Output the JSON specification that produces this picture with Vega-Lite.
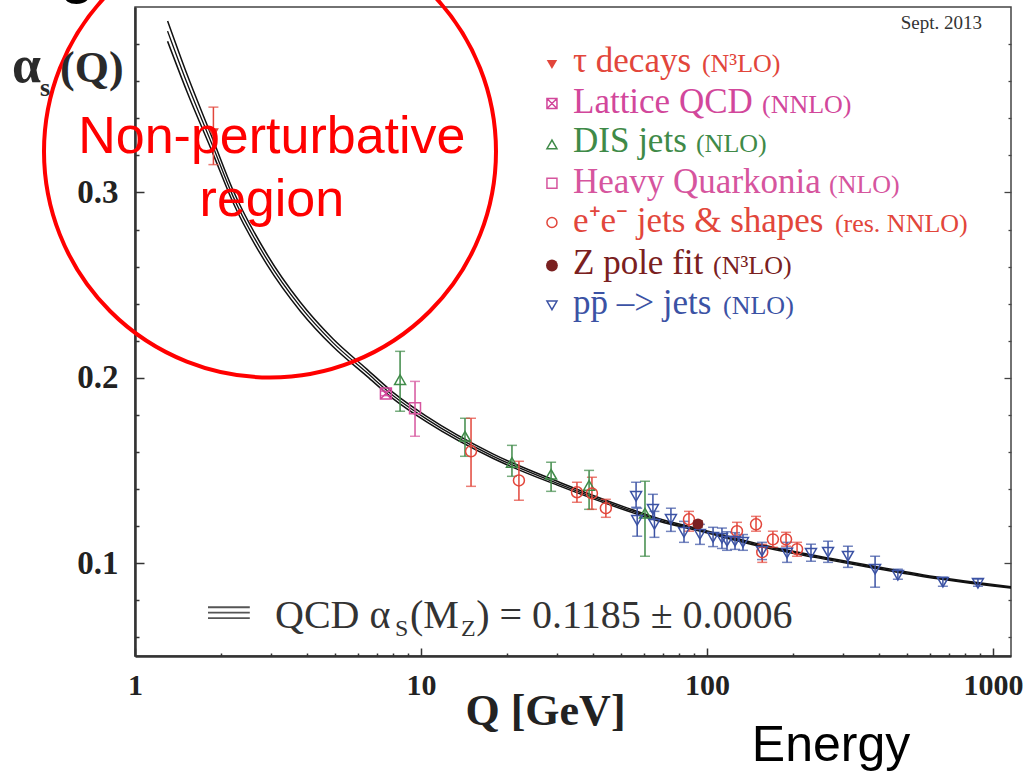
{
  "$schema": "https://vega.github.io/schema/vega-lite/v6.json",
  "width": 876,
  "height": 649,
  "autosize": {"type": "none"},
  "padding": {"left": 135, "top": 7, "right": 17, "bottom": 118},
  "background": "white",
  "config": {
    "view": {"stroke": "#444", "strokeWidth": 1.5},
    "legend": {"disable": true},
    "font": "Liberation Serif"
  },
  "resolve": {"axis": {"x": "independent", "y": "independent"}},
  "data": {"values": [{}]},
  "datasets": {
    "curve": [
      {"q": 1.30, "a": 0.387, "lo": 0.3815, "hi": 0.3925},
      {"q": 1.52, "a": 0.359, "lo": 0.3543, "hi": 0.3637},
      {"q": 1.87, "a": 0.325, "lo": 0.3212, "hi": 0.3288},
      {"q": 2.20, "a": 0.298, "lo": 0.2947, "hi": 0.3013},
      {"q": 2.89, "a": 0.264, "lo": 0.2612, "hi": 0.2668},
      {"q": 3.78, "a": 0.2385, "lo": 0.2361, "hi": 0.2409},
      {"q": 4.92, "a": 0.219, "lo": 0.2169, "hi": 0.2211},
      {"q": 6.48, "a": 0.2027, "lo": 0.2008, "hi": 0.2046},
      {"q": 7.98, "a": 0.1905, "lo": 0.1888, "hi": 0.1922},
      {"q": 10.5, "a": 0.1776, "lo": 0.1761, "hi": 0.1791},
      {"q": 17.9, "a": 0.1577, "lo": 0.1565, "hi": 0.1589},
      {"q": 30.6, "a": 0.1426, "lo": 0.1416, "hi": 0.1436},
      {"q": 52.5, "a": 0.1291, "lo": 0.1283, "hi": 0.1299},
      {"q": 68.5, "a": 0.1232, "lo": 0.1225, "hi": 0.1239},
      {"q": 91.2, "a": 0.1185, "lo": 0.1179, "hi": 0.1191},
      {"q": 150, "a": 0.1100, "lo": 0.1094, "hi": 0.1106},
      {"q": 269, "a": 0.1022, "lo": 0.1017, "hi": 0.1027},
      {"q": 380, "a": 0.0980, "lo": 0.0975, "hi": 0.0985},
      {"q": 653, "a": 0.0919, "lo": 0.0915, "hi": 0.0923},
      {"q": 1000, "a": 0.0881, "lo": 0.0877, "hi": 0.0885},
      {"q": 1156, "a": 0.0870, "lo": 0.0866, "hi": 0.0874}
    ],
    "points": [
      {"s": "τ decays", "q": 1.88, "a": 0.332, "lo": 0.315, "hi": 0.346},
      {"s": "Lattice QCD", "q": 7.54, "a": 0.1916, "lo": 0.1904, "hi": 0.1928},
      {"s": "DIS jets", "q": 8.45, "a": 0.199, "lo": 0.182, "hi": 0.2143},
      {"s": "DIS jets", "q": 14.25, "a": 0.1685, "lo": 0.1577, "hi": 0.1782},
      {"s": "DIS jets", "q": 20.8, "a": 0.1544, "lo": 0.1469, "hi": 0.1636},
      {"s": "DIS jets", "q": 28.5, "a": 0.148, "lo": 0.1388, "hi": 0.1545},
      {"s": "DIS jets", "q": 38.7, "a": 0.142, "lo": 0.1291, "hi": 0.1501},
      {"s": "DIS jets", "q": 60.7, "a": 0.127, "lo": 0.1038, "hi": 0.1442},
      {"s": "Heavy Quarkonia", "q": 9.53, "a": 0.1836, "lo": 0.1685, "hi": 0.1981},
      {"s": "e+e- jets & shapes", "q": 14.96, "a": 0.1604, "lo": 0.1415, "hi": 0.1782},
      {"s": "e+e- jets & shapes", "q": 22.0, "a": 0.1447, "lo": 0.134, "hi": 0.155},
      {"s": "e+e- jets & shapes", "q": 35.1, "a": 0.1383, "lo": 0.1329, "hi": 0.1437},
      {"s": "e+e- jets & shapes", "q": 39.6, "a": 0.1377, "lo": 0.1291, "hi": 0.1464},
      {"s": "e+e- jets & shapes", "q": 44.3, "a": 0.1297, "lo": 0.1248, "hi": 0.1345},
      {"s": "e+e- jets & shapes", "q": 86.5, "a": 0.1237, "lo": 0.1173, "hi": 0.128},
      {"s": "e+e- jets & shapes", "q": 127.3, "a": 0.1173, "lo": 0.114, "hi": 0.1221},
      {"s": "e+e- jets & shapes", "q": 148.4, "a": 0.121, "lo": 0.1173, "hi": 0.1253},
      {"s": "e+e- jets & shapes", "q": 156, "a": 0.106, "lo": 0.1005, "hi": 0.1102},
      {"s": "e+e- jets & shapes", "q": 170, "a": 0.1129, "lo": 0.1086, "hi": 0.1173},
      {"s": "e+e- jets & shapes", "q": 189, "a": 0.1129, "lo": 0.1092, "hi": 0.1167},
      {"s": "e+e- jets & shapes", "q": 206.5, "a": 0.1076, "lo": 0.1038, "hi": 0.1113},
      {"s": "Z pole fit", "q": 93, "a": 0.1212, "lo": 0.1195, "hi": 0.1229},
      {"s": "pp̄ -> jets", "q": 56.5, "a": 0.1361, "lo": 0.1302, "hi": 0.1437},
      {"s": "pp̄ -> jets", "q": 57, "a": 0.1232, "lo": 0.1146, "hi": 0.1297},
      {"s": "pp̄ -> jets", "q": 64.7, "a": 0.1291, "lo": 0.1237, "hi": 0.1372},
      {"s": "pp̄ -> jets", "q": 65.5, "a": 0.121, "lo": 0.114, "hi": 0.128},
      {"s": "pp̄ -> jets", "q": 74.8, "a": 0.1237, "lo": 0.1172, "hi": 0.1297},
      {"s": "pp̄ -> jets", "q": 83.1, "a": 0.1167, "lo": 0.1113, "hi": 0.1226},
      {"s": "pp̄ -> jets", "q": 94.5, "a": 0.1156, "lo": 0.1102, "hi": 0.121},
      {"s": "pp̄ -> jets", "q": 105, "a": 0.114, "lo": 0.109, "hi": 0.1194},
      {"s": "pp̄ -> jets", "q": 112.8, "a": 0.1135, "lo": 0.108, "hi": 0.119},
      {"s": "pp̄ -> jets", "q": 117.5, "a": 0.1119, "lo": 0.107, "hi": 0.117},
      {"s": "pp̄ -> jets", "q": 125.3, "a": 0.1119, "lo": 0.1075, "hi": 0.1165},
      {"s": "pp̄ -> jets", "q": 133.6, "a": 0.1113, "lo": 0.107, "hi": 0.1155},
      {"s": "pp̄ -> jets", "q": 155.7, "a": 0.1065, "lo": 0.102, "hi": 0.1113},
      {"s": "pp̄ -> jets", "q": 190.5, "a": 0.1055, "lo": 0.1005, "hi": 0.1113},
      {"s": "pp̄ -> jets", "q": 231, "a": 0.1054, "lo": 0.1011, "hi": 0.1103},
      {"s": "pp̄ -> jets", "q": 265, "a": 0.106, "lo": 0.1005, "hi": 0.1119},
      {"s": "pp̄ -> jets", "q": 311, "a": 0.1038, "lo": 0.0978, "hi": 0.1092},
      {"s": "pp̄ -> jets", "q": 387, "a": 0.0968, "lo": 0.0871, "hi": 0.1038},
      {"s": "pp̄ -> jets", "q": 465, "a": 0.0935, "lo": 0.0914, "hi": 0.0968},
      {"s": "pp̄ -> jets", "q": 668, "a": 0.0898, "lo": 0.0876, "hi": 0.0925},
      {"s": "pp̄ -> jets", "q": 886, "a": 0.0892, "lo": 0.0876, "hi": 0.0915}
    ]
  },
  "layer": [
    {
      "data": {"name": "curve"},
      "mark": {"type": "line", "color": "#111", "strokeWidth": 1.3, "interpolate": "monotone"},
      "encoding": {
        "x": {
          "field": "q", "type": "quantitative",
          "scale": {"type": "log", "domain": [1, 1156], "nice": false},
          "axis": {
            "orient": "bottom",
            "values": [1,2,3,4,5,6,7,8,9,10,20,30,40,50,60,70,80,90,100,200,300,400,500,600,700,800,900,1000],
            "labelExpr": "(datum.value==1||datum.value==10||datum.value==100||datum.value==1000) ? ('' + datum.value) : ''",
            "tickSize": {"condition": {"test": "datum.value==1||datum.value==10||datum.value==100||datum.value==1000", "value": -8}, "value": -3},
            "tickColor": "#333", "tickWidth": 1.5,
            "domainColor": "#333", "domainWidth": 2.5,
            "labelFont": "Liberation Serif", "labelFontWeight": "bold", "labelFontSize": 30, "labelColor": "#222",
            "labelPadding": 22, "labelFlush": false, "labelOverlap": false, "labelBound": false,
            "grid": false,
            "title": "Q [GeV]", "titleFont": "Liberation Serif", "titleFontWeight": "bold", "titleFontSize": 44,
            "titleColor": "#222", "titleX": 410, "titleY": 68, "titleAlign": "center", "titleBaseline": "alphabetic"
          }
        },
        "y": {
          "field": "a", "type": "quantitative",
          "scale": {"domain": [0.05, 0.4], "nice": false, "zero": false},
          "axis": {
            "orient": "left",
            "values": [0.06,0.08,0.1,0.12,0.14,0.16,0.18,0.2,0.22,0.24,0.26,0.28,0.3,0.32,0.34,0.36,0.38],
            "labelExpr": "(datum.value==0.1||datum.value==0.2||datum.value==0.3) ? format(datum.value, '.1f') : ''",
            "tickSize": {"condition": {"test": "datum.value==0.1||datum.value==0.2||datum.value==0.3", "value": -9}, "value": -4},
            "tickColor": "#333", "tickWidth": 1.5,
            "domainColor": "#333", "domainWidth": 2.5,
            "labelFont": "Liberation Serif", "labelFontWeight": "bold", "labelFontSize": 33, "labelColor": "#222",
            "labelPadding": 26, "labelOverlap": false, "labelBound": false, "labelFlush": false,
            "grid": false, "title": null
          }
        }
      }
    },
    {
      "data": {"name": "curve"},
      "mark": {"type": "line", "color": "#111", "strokeWidth": 1.5, "interpolate": "monotone"},
      "encoding": {
        "x": {"field": "q", "type": "quantitative", "axis": null},
        "y": {"field": "lo", "type": "quantitative", "axis": null}
      }
    },
    {
      "data": {"name": "curve"},
      "mark": {"type": "line", "color": "#111", "strokeWidth": 1.5, "interpolate": "monotone"},
      "encoding": {
        "x": {"field": "q", "type": "quantitative", "axis": null},
        "y": {"field": "hi", "type": "quantitative", "axis": null}
      }
    },
    {
      "data": {"name": "points"},
      "mark": {"type": "errorbar", "ticks": true, "size": 10, "thickness": 1.5},
      "encoding": {
        "x": {"field": "q", "type": "quantitative", "axis": null},
        "y": {"field": "lo", "type": "quantitative", "axis": null},
        "y2": {"field": "hi"},
        "color": {"field": "s", "type": "nominal"}
      }
    },
    {
      "data": {"name": "points"},
      "transform": [{"filter": "datum.s != 'τ decays' && datum.s != 'Z pole fit'"}],
      "mark": {"type": "point", "filled": false, "size": 120, "strokeWidth": 1.5, "opacity": 1},
      "encoding": {
        "x": {"field": "q", "type": "quantitative", "axis": null},
        "y": {"field": "a", "type": "quantitative", "axis": null},
        "color": {
          "field": "s", "type": "nominal",
          "scale": {
            "domain": ["τ decays", "Lattice QCD", "DIS jets", "Heavy Quarkonia", "e+e- jets & shapes", "Z pole fit", "pp̄ -> jets"],
            "range": ["#e2463b", "#d2479b", "#3f8a48", "#d6559e", "#e2463b", "#7a2020", "#3b52a4"]
          }
        },
        "shape": {
          "field": "s", "type": "nominal",
          "scale": {
            "domain": ["τ decays", "Lattice QCD", "DIS jets", "Heavy Quarkonia", "e+e- jets & shapes", "Z pole fit", "pp̄ -> jets"],
            "range": ["triangle-down", "M-1,-1H1V1H-1Z M-1,-1L1,1 M1,-1L-1,1", "triangle-up", "square", "circle", "circle", "triangle-down"]
          }
        }
      }
    },
    {
      "data": {"name": "points"},
      "transform": [{"filter": "datum.s == 'τ decays' || datum.s == 'Z pole fit'"}],
      "mark": {"type": "point", "filled": true, "size": 120, "opacity": 1},
      "encoding": {
        "x": {"field": "q", "type": "quantitative", "axis": null},
        "y": {"field": "a", "type": "quantitative", "axis": null},
        "color": {"field": "s", "type": "nominal"},
        "shape": {"field": "s", "type": "nominal"}
      }
    },
    {
      "data": {"name": "curve"},
      "mark": {"type": "point", "opacity": 0},
      "encoding": {
        "x": {"field": "q", "type": "quantitative", "axis": null},
        "y": {
          "field": "a", "type": "quantitative",
          "axis": {
            "orient": "right",
            "values": [0.06,0.08,0.1,0.12,0.14,0.16,0.18,0.2,0.22,0.24,0.26,0.28,0.3,0.32,0.34,0.36,0.38],
            "labels": false, "domain": false, "grid": false, "title": null,
            "tickSize": {"condition": {"test": "datum.value==0.1||datum.value==0.2||datum.value==0.3", "value": -7}, "value": -3},
            "tickColor": "#444", "tickWidth": 1.3
          }
        }
      }
    },
    {
      "mark": {"type": "point", "shape": "circle", "size": 204304, "filled": false, "color": "#ff0000", "strokeWidth": 4, "opacity": 1},
      "encoding": {"x": {"datum": 2.965, "axis": null}, "y": {"datum": 0.3221, "axis": null}}
    },
    {
      "mark": {"type": "text", "text": "Non-perturbative", "font": "Liberation Sans", "fontSize": 52, "color": "#ff0000", "align": "center", "baseline": "alphabetic"},
      "encoding": {"x": {"datum": 3.01, "axis": null}, "y": {"datum": 0.3210, "axis": null}}
    },
    {
      "mark": {"type": "text", "text": "region", "font": "Liberation Sans", "fontSize": 52, "color": "#ff0000", "align": "center", "baseline": "alphabetic"},
      "encoding": {"x": {"datum": 3.01, "axis": null}, "y": {"datum": 0.2871, "axis": null}}
    },
    {
      "mark": {"type": "text", "text": "Sept. 2013", "font": "Liberation Serif", "fontSize": 19, "color": "#333", "align": "right", "baseline": "middle"},
      "encoding": {"x": {"datum": 915, "axis": null}, "y": {"datum": 0.3916, "axis": null}}
    },
    {
      "mark": {"type": "point", "filled": true, "size": 110, "opacity": 1},
      "encoding": {"x": {"datum": 28.7, "axis": null}, "y": {"datum": 0.3690, "axis": null}, "color": {"datum": "τ decays"}, "shape": {"datum": "τ decays"}}
    },
    {
      "mark": {"type": "point", "filled": false, "size": 100, "strokeWidth": 1.5, "opacity": 1},
      "encoding": {"x": {"datum": 28.7, "axis": null}, "y": {"datum": 0.3480, "axis": null}, "color": {"datum": "Lattice QCD"}, "shape": {"datum": "Lattice QCD"}}
    },
    {
      "mark": {"type": "point", "filled": false, "size": 100, "strokeWidth": 1.5, "opacity": 1},
      "encoding": {"x": {"datum": 28.7, "axis": null}, "y": {"datum": 0.3259, "axis": null}, "color": {"datum": "DIS jets"}, "shape": {"datum": "DIS jets"}}
    },
    {
      "mark": {"type": "point", "filled": false, "size": 100, "strokeWidth": 1.5, "opacity": 1},
      "encoding": {"x": {"datum": 28.7, "axis": null}, "y": {"datum": 0.3049, "axis": null}, "color": {"datum": "Heavy Quarkonia"}, "shape": {"datum": "Heavy Quarkonia"}}
    },
    {
      "mark": {"type": "point", "filled": false, "size": 100, "strokeWidth": 1.5, "opacity": 1},
      "encoding": {"x": {"datum": 28.7, "axis": null}, "y": {"datum": 0.2838, "axis": null}, "color": {"datum": "e+e- jets & shapes"}, "shape": {"datum": "e+e- jets & shapes"}}
    },
    {
      "mark": {"type": "point", "filled": true, "size": 140, "opacity": 1},
      "encoding": {"x": {"datum": 28.7, "axis": null}, "y": {"datum": 0.2606, "axis": null}, "color": {"datum": "Z pole fit"}, "shape": {"datum": "Z pole fit"}}
    },
    {
      "mark": {"type": "point", "filled": false, "size": 100, "strokeWidth": 1.5, "opacity": 1},
      "encoding": {"x": {"datum": 28.7, "axis": null}, "y": {"datum": 0.2391, "axis": null}, "color": {"datum": "pp̄ -> jets"}, "shape": {"datum": "pp̄ -> jets"}}
    },
    {
      "mark": {"type": "text", "text": "τ decays", "font": "Liberation Serif", "fontSize": 35, "align": "left", "baseline": "alphabetic"},
      "encoding": {"x": {"datum": 34.0, "axis": null}, "y": {"datum": 0.3652, "axis": null}, "color": {"datum": "τ decays"}}
    },
    {
      "mark": {"type": "text", "text": "(N³LO)", "font": "Liberation Serif", "fontSize": 26, "align": "left", "baseline": "alphabetic"},
      "encoding": {"x": {"datum": 96.0, "axis": null}, "y": {"datum": 0.3652, "axis": null}, "color": {"datum": "τ decays"}}
    },
    {
      "mark": {"type": "text", "text": "Lattice QCD", "font": "Liberation Serif", "fontSize": 35, "align": "left", "baseline": "alphabetic"},
      "encoding": {"x": {"datum": 34.0, "axis": null}, "y": {"datum": 0.3431, "axis": null}, "color": {"datum": "Lattice QCD"}}
    },
    {
      "mark": {"type": "text", "text": "(NNLO)", "font": "Liberation Serif", "fontSize": 26, "align": "left", "baseline": "alphabetic"},
      "encoding": {"x": {"datum": 155.7, "axis": null}, "y": {"datum": 0.3431, "axis": null}, "color": {"datum": "Lattice QCD"}}
    },
    {
      "mark": {"type": "text", "text": "DIS jets", "font": "Liberation Serif", "fontSize": 35, "align": "left", "baseline": "alphabetic"},
      "encoding": {"x": {"datum": 34.0, "axis": null}, "y": {"datum": 0.3216, "axis": null}, "color": {"datum": "DIS jets"}}
    },
    {
      "mark": {"type": "text", "text": "(NLO)", "font": "Liberation Serif", "fontSize": 26, "align": "left", "baseline": "alphabetic"},
      "encoding": {"x": {"datum": 91.5, "axis": null}, "y": {"datum": 0.3216, "axis": null}, "color": {"datum": "DIS jets"}}
    },
    {
      "mark": {"type": "text", "text": "Heavy Quarkonia", "font": "Liberation Serif", "fontSize": 35, "align": "left", "baseline": "alphabetic"},
      "encoding": {"x": {"datum": 34.0, "axis": null}, "y": {"datum": 0.2995, "axis": null}, "color": {"datum": "Heavy Quarkonia"}}
    },
    {
      "mark": {"type": "text", "text": "(NLO)", "font": "Liberation Serif", "fontSize": 26, "align": "left", "baseline": "alphabetic"},
      "encoding": {"x": {"datum": 267, "axis": null}, "y": {"datum": 0.2995, "axis": null}, "color": {"datum": "Heavy Quarkonia"}}
    },
    {
      "mark": {"type": "text", "text": "e⁺e⁻  jets & shapes", "font": "Liberation Serif", "fontSize": 35, "align": "left", "baseline": "alphabetic"},
      "encoding": {"x": {"datum": 34.0, "axis": null}, "y": {"datum": 0.2784, "axis": null}, "color": {"datum": "e+e- jets & shapes"}}
    },
    {
      "mark": {"type": "text", "text": "(res. NNLO)", "font": "Liberation Serif", "fontSize": 26, "align": "left", "baseline": "alphabetic"},
      "encoding": {"x": {"datum": 280, "axis": null}, "y": {"datum": 0.2784, "axis": null}, "color": {"datum": "e+e- jets & shapes"}}
    },
    {
      "mark": {"type": "text", "text": "Z pole fit", "font": "Liberation Serif", "fontSize": 35, "align": "left", "baseline": "alphabetic"},
      "encoding": {"x": {"datum": 34.0, "axis": null}, "y": {"datum": 0.2558, "axis": null}, "color": {"datum": "Z pole fit"}}
    },
    {
      "mark": {"type": "text", "text": "(N³LO)", "font": "Liberation Serif", "fontSize": 26, "align": "left", "baseline": "alphabetic"},
      "encoding": {"x": {"datum": 105, "axis": null}, "y": {"datum": 0.2558, "axis": null}, "color": {"datum": "Z pole fit"}}
    },
    {
      "mark": {"type": "text", "text": "pp̄ –> jets", "font": "Liberation Serif", "fontSize": 35, "align": "left", "baseline": "alphabetic"},
      "encoding": {"x": {"datum": 34.0, "axis": null}, "y": {"datum": 0.2342, "axis": null}, "color": {"datum": "pp̄ -> jets"}}
    },
    {
      "mark": {"type": "text", "text": "(NLO)", "font": "Liberation Serif", "fontSize": 26, "align": "left", "baseline": "alphabetic"},
      "encoding": {"x": {"datum": 113.8, "axis": null}, "y": {"datum": 0.2342, "axis": null}, "color": {"datum": "pp̄ -> jets"}}
    },
    {
      "mark": {"type": "rule", "color": "#555", "strokeWidth": 1.8},
      "encoding": {"x": {"datum": 1.80, "axis": null}, "x2": {"datum": 2.52}, "y": {"datum": 0.0763, "axis": null}}
    },
    {
      "mark": {"type": "rule", "color": "#555", "strokeWidth": 1.8},
      "encoding": {"x": {"datum": 1.80, "axis": null}, "x2": {"datum": 2.52}, "y": {"datum": 0.0734, "axis": null}}
    },
    {
      "mark": {"type": "rule", "color": "#555", "strokeWidth": 1.8},
      "encoding": {"x": {"datum": 1.80, "axis": null}, "x2": {"datum": 2.52}, "y": {"datum": 0.0704, "axis": null}}
    },
    {
      "mark": {"type": "text", "text": "QCD α", "font": "Liberation Serif", "fontSize": 40, "color": "#333", "align": "left", "baseline": "alphabetic"},
      "encoding": {"x": {"datum": 3.087, "axis": null}, "y": {"datum": 0.0650, "axis": null}}
    },
    {
      "mark": {"type": "text", "text": "S", "font": "Liberation Serif", "fontSize": 24, "color": "#333", "align": "left", "baseline": "alphabetic"},
      "encoding": {"x": {"datum": 8.11, "axis": null}, "y": {"datum": 0.0606, "axis": null}}
    },
    {
      "mark": {"type": "text", "text": "(M", "font": "Liberation Serif", "fontSize": 40, "color": "#333", "align": "left", "baseline": "alphabetic"},
      "encoding": {"x": {"datum": 9.15, "axis": null}, "y": {"datum": 0.0650, "axis": null}}
    },
    {
      "mark": {"type": "text", "text": "Z", "font": "Liberation Serif", "fontSize": 24, "color": "#333", "align": "left", "baseline": "alphabetic"},
      "encoding": {"x": {"datum": 13.8, "axis": null}, "y": {"datum": 0.0606, "axis": null}}
    },
    {
      "mark": {"type": "text", "text": ") = 0.1185 ± 0.0006", "font": "Liberation Serif", "fontSize": 40, "color": "#333", "align": "left", "baseline": "alphabetic"},
      "encoding": {"x": {"datum": 15.6, "axis": null}, "y": {"datum": 0.0650, "axis": null}}
    },
    {
      "mark": {"type": "text", "text": "α", "font": "Liberation Serif", "fontWeight": "bold", "fontSize": 52, "color": "#2a2a2a", "align": "left", "baseline": "alphabetic"},
      "encoding": {"x": {"datum": 0.3715, "axis": null}, "y": {"datum": 0.3593, "axis": null}}
    },
    {
      "mark": {"type": "text", "text": "s", "font": "Liberation Serif", "fontWeight": "bold", "fontSize": 26, "color": "#2a2a2a", "align": "left", "baseline": "alphabetic"},
      "encoding": {"x": {"datum": 0.4654, "axis": null}, "y": {"datum": 0.3518, "axis": null}}
    },
    {
      "mark": {"type": "text", "text": "(Q)", "font": "Liberation Serif", "fontWeight": "bold", "fontSize": 44, "color": "#2a2a2a", "align": "left", "baseline": "alphabetic"},
      "encoding": {"x": {"datum": 0.5468, "axis": null}, "y": {"datum": 0.3593, "axis": null}}
    },
    {
      "mark": {"type": "text", "text": "Energy", "font": "Liberation Sans", "fontSize": 50, "color": "#000", "align": "center", "baseline": "alphabetic"},
      "encoding": {"x": {"datum": 271.5, "axis": null}, "y": {"datum": -0.0067, "axis": null}}
    },
    {
      "mark": {"type": "text", "text": "g", "font": "Liberation Sans", "fontSize": 64, "color": "#000", "align": "center", "baseline": "alphabetic"},
      "encoding": {"x": {"datum": 0.627, "axis": null}, "y": {"datum": 0.4086, "axis": null}}
    }
  ]
}
